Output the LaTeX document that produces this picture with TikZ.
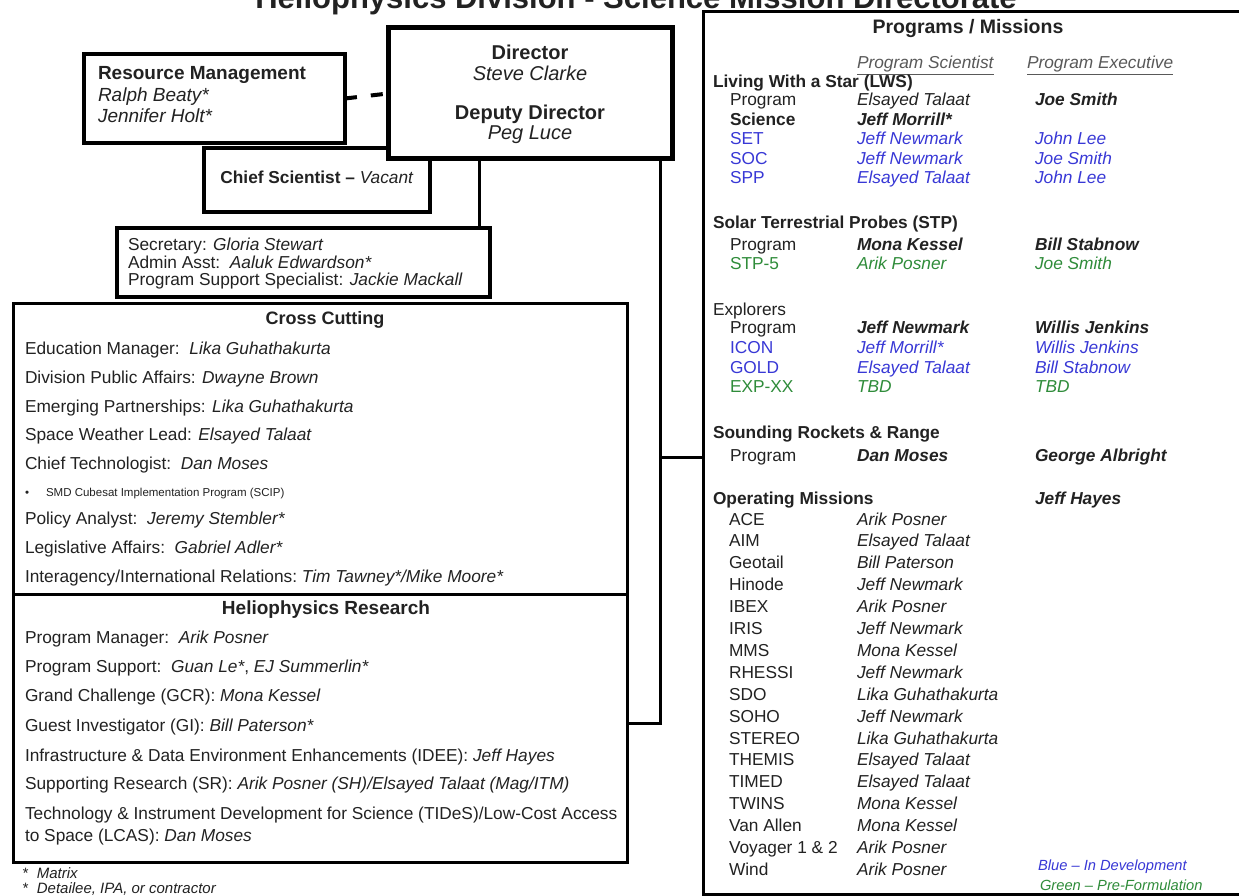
\documentclass[tikz,border=0pt]{standalone}
\usepackage{fontspec}
\setmainfont{Liberation Sans}
\definecolor{tx}{HTML}{222222}
\definecolor{bl}{HTML}{3838D6}
\definecolor{gr}{HTML}{2F8C3A}
\tikzset{
  base/.style={inner sep=0pt, outer sep=0pt, text=tx},
  t/.style={base, anchor=base west, font=\fontsize{17.3}{20}\selectfont},
  ti/.style={t, font=\fontsize{17.3}{20}\selectfont\itshape},
  tb/.style={t, font=\fontsize{17.3}{20}\selectfont\bfseries},
  tbi/.style={t, font=\fontsize{17.3}{20}\selectfont\bfseries\itshape},
  hd/.style={base, anchor=base, font=\fontsize{19}{22}\selectfont\bfseries},
  frame/.style={draw=black, fill=white, line width=3pt, inner sep=0pt, outer sep=0pt},
  link/.style={draw=black, line width=3pt},
}
\begin{document}
\begin{tikzpicture}[x=1pt,y=-1pt]
\useasboundingbox (0,0) rectangle (1239,896);
\fill[white] (0,0) rectangle (1239,896);

% title (top clipped as in the reference)
\node[base, anchor=base, font=\fontsize{31}{31}\selectfont\bfseries] (title) at (636,9) {Heliophysics Division - Science Mission Directorate};

% boxes
\node[frame, minimum width=540pt, minimum height=882pt] (prog) at (973,453) {};
\node[frame, line width=3.5pt, minimum width=226pt, minimum height=64pt] (chief) at (317,180) {};
\node[frame, line width=5pt, minimum width=284pt, minimum height=131pt] (dir) at (530,93.5) {};
\node[frame, line width=4.5pt, minimum width=261pt, minimum height=89pt] (rm) at (214.5,98.5) {};
\node[frame, line width=4pt, minimum width=373pt, minimum height=69pt] (sec) at (303.5,262.5) {};
\node[frame, minimum width=614pt, minimum height=291pt] (cc) at (320,448.5) {};
\node[frame, minimum width=614pt, minimum height=268pt] (hr) at (320,728) {};

% connectors
\coordinate (j1) at (479,0);
\coordinate (j2) at (660,0);
\coordinate (bend) at (660,723);
\coordinate (tee) at (660,457);
\draw[link, line width=4pt, dash pattern=on 12pt off 14pt] (rm.east) -- (dir.west);
\draw[link] (dir.south -| j1) -- (sec.north -| j1);
\draw[link] (dir.south -| j2) -- (bend) -- (hr.east |- bend);
\draw[link] (tee) -- (prog.west |- tee);

% director
\node[base, anchor=base, font=\fontsize{20}{24}\selectfont\bfseries] (dt) at (530,60) {Director};
\node[base, anchor=base, font=\fontsize{20}{24}\selectfont\itshape] (dn) at (530,81) {Steve Clarke};
\node[base, anchor=base, font=\fontsize{20}{24}\selectfont\bfseries] (ddt) at (530,120) {Deputy Director};
\node[base, anchor=base, font=\fontsize{20}{24}\selectfont\itshape] (ddn) at (530,140) {Peg Luce};

% resource management
\node[t, font=\fontsize{19}{22}\selectfont\bfseries] (rmt) at (98,80) {Resource Management};
\node[t, font=\fontsize{19}{22}\selectfont\itshape] (rm1) at (98,102) {Ralph Beaty*};
\node[t, font=\fontsize{19}{22}\selectfont\itshape] (rm2) at (98,123) {Jennifer Holt*};

% chief scientist
\node[base, anchor=base, font=\fontsize{17.3}{20}\selectfont] (cst) at (317,184) {\textbf{Chief Scientist –} \textit{Vacant}};

% secretary box
\node[t] (s1) at (128,251) {Secretary: \textit{Gloria Stewart}};
\node[t] (s2) at (128,268) {Admin Asst:\ \ \textit{Aaluk Edwardson*}};
\node[t] (s3) at (128,285) {Program Support Specialist: \textit{Jackie Mackall}};

% cross cutting
\node[hd, font=\fontsize{18}{22}\selectfont\bfseries] (cch) at (325,324) {Cross Cutting};
\node[t] (c1) at (25,354) {Education Manager:\ \ \textit{Lika Guhathakurta}};
\node[t] (c2) at (25,383) {Division Public Affairs: \textit{Dwayne Brown}};
\node[t] (c3) at (25,412) {Emerging Partnerships: \textit{Lika Guhathakurta}};
\node[t] (c4) at (25,440) {Space Weather Lead: \textit{Elsayed Talaat}};
\node[t] (c5) at (25,469) {Chief Technologist:\ \ \textit{Dan Moses}};
\node[t, font=\fontsize{11.5}{13}\selectfont] (c6) at (25,496) {•\hspace{17pt}SMD Cubesat Implementation Program (SCIP)};
\node[t] (c7) at (25,524) {Policy Analyst:\ \ \textit{Jeremy Stembler*}};
\node[t] (c8) at (25,553) {Legislative Affairs:\ \ \textit{Gabriel Adler*}};
\node[t] (c9) at (25,582) {Interagency/International Relations:\ \textit{Tim Tawney*/Mike Moore*}};

% heliophysics research
\node[hd] (hrh) at (326,614) {Heliophysics Research};
\node[t] (h1) at (25,643) {Program Manager:\ \ \textit{Arik Posner}};
\node[t] (h2) at (25,672) {Program Support:\ \ \textit{Guan Le*}, \textit{EJ Summerlin*}};
\node[t] (h3) at (25,701) {Grand Challenge (GCR): \textit{Mona Kessel}};
\node[t] (h4) at (25,731) {Guest Investigator (GI): \textit{Bill Paterson*}};
\node[t] (h5) at (25,761) {Infrastructure \& Data Environment Enhancements (IDEE): \textit{Jeff Hayes}};
\node[t] (h6) at (25,789) {Supporting Research (SR): \textit{Arik Posner (SH)/Elsayed Talaat (Mag/ITM)}};
\node[t] (h7) at (25,819) {Technology \& Instrument Development for Science (TIDeS)/Low-Cost Access};
\node[t] (h8) at (25,841) {to Space (LCAS): \textit{Dan Moses}};

% footnotes
\node[t, font=\fontsize{15}{18}\selectfont\itshape] (f1) at (22,878) {*\hspace{9pt}Matrix};
\node[t, font=\fontsize{15}{18}\selectfont\itshape] (f2) at (22,893) {*\hspace{9pt}Detailee, IPA, or contractor};

% programs / missions
\node[hd, font=\fontsize{19.5}{22}\selectfont\bfseries] (pmh) at (968,34) {Programs / Missions};
\node[ti, text=tx!75] (psh) at (857,69) {\underline{Program Scientist}};
\node[ti, text=tx!75] (peh) at (1027,69) {\underline{Program Executive}};

\node[tb] (lws) at (713,88) {Living With a Star (LWS)};
\node[t] (l1a) at (730,106) {Program};
\node[ti] (l1b) at (857,106) {Elsayed Talaat};
\node[tbi] (l1c) at (1035,106) {Joe Smith};
\node[tb] (l2a) at (730,125.5) {Science};
\node[tbi] (l2b) at (857,125.5) {Jeff Morrill*};
\node[t, text=bl] (l3a) at (730,145) {SET};
\node[ti, text=bl] (l3b) at (857,145) {Jeff Newmark};
\node[ti, text=bl] (l3c) at (1035,145) {John Lee};
\node[t, text=bl] (l4a) at (730,164.5) {SOC};
\node[ti, text=bl] (l4b) at (857,164.5) {Jeff Newmark};
\node[ti, text=bl] (l4c) at (1035,164.5) {Joe Smith};
\node[t, text=bl] (l5a) at (730,184) {SPP};
\node[ti, text=bl] (l5b) at (857,184) {Elsayed Talaat};
\node[ti, text=bl] (l5c) at (1035,184) {John Lee};

\node[tb] (stp) at (713,228) {Solar Terrestrial Probes (STP)};
\node[t] (p1a) at (730,251) {Program};
\node[tbi] (p1b) at (857,251) {Mona Kessel};
\node[tbi] (p1c) at (1035,251) {Bill Stabnow};
\node[t, text=gr] (p2a) at (730,269) {STP-5};
\node[ti, text=gr] (p2b) at (857,269) {Arik Posner};
\node[ti, text=gr] (p2c) at (1035,269) {Joe Smith};

\node[t] (exp) at (713,315) {Explorers};
\node[t] (e1a) at (730,333) {Program};
\node[tbi] (e1b) at (857,333) {Jeff Newmark};
\node[tbi] (e1c) at (1035,333) {Willis Jenkins};
\node[t, text=bl] (e2a) at (730,353) {ICON};
\node[ti, text=bl] (e2b) at (857,353) {Jeff Morrill*};
\node[ti, text=bl] (e2c) at (1035,353) {Willis Jenkins};
\node[t, text=bl] (e3a) at (730,373) {GOLD};
\node[ti, text=bl] (e3b) at (857,373) {Elsayed Talaat};
\node[ti, text=bl] (e3c) at (1035,373) {Bill Stabnow};
\node[t, text=gr] (e4a) at (730,392) {EXP-XX};
\node[ti, text=gr] (e4b) at (857,392) {TBD};
\node[ti, text=gr] (e4c) at (1035,392) {TBD};

\node[tb] (srr) at (713,438) {Sounding Rockets \& Range};
\node[t] (r1a) at (730,461) {Program};
\node[tbi] (r1b) at (857,461) {Dan Moses};
\node[tbi] (r1c) at (1035,461) {George Albright};

\node[tb] (opm) at (713,504) {Operating Missions};
\node[tbi] (oph) at (1035,504) {Jeff Hayes};
\foreach \m/\p [count=\i from 0] in {ACE/Arik Posner, AIM/Elsayed Talaat, Geotail/Bill Paterson, Hinode/Jeff Newmark, IBEX/Arik Posner, IRIS/Jeff Newmark, MMS/Mona Kessel, RHESSI/Jeff Newmark, SDO/Lika Guhathakurta, SOHO/Jeff Newmark, STEREO/Lika Guhathakurta, THEMIS/Elsayed Talaat, TIMED/Elsayed Talaat, TWINS/Mona Kessel, Van Allen/Mona Kessel, Voyager 1 \& 2/Arik Posner, Wind/Arik Posner} {
  \node[t] (om\i) at ({729},{525+21.9*\i}) {\m};
  \node[ti] (op\i) at ({857},{525+21.9*\i}) {\p};
}

% legend
\node[t, font=\fontsize{14.7}{17}\selectfont\itshape, text=bl] (lg1) at (1038,870) {Blue – In Development};
\node[t, font=\fontsize{14.7}{17}\selectfont\itshape, text=gr] (lg2) at (1040,890) {Green – Pre-Formulation};
\end{tikzpicture}
\end{document}
